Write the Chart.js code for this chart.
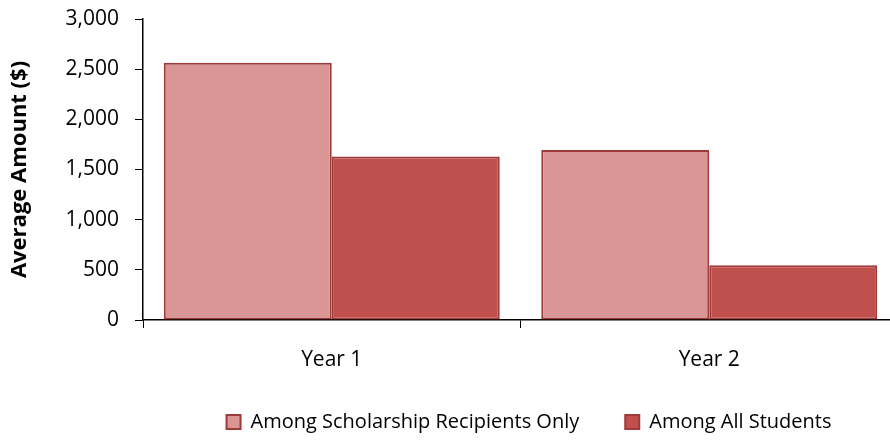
<!DOCTYPE html>
<html>
<head>
<meta charset="utf-8">
<script src="https://cdn.jsdelivr.net/npm/chart.js@4.4.0/dist/chart.umd.min.js"></script>
<style>
    html, body { margin: 0; padding: 0; background: #fff; overflow: hidden; }
    #wrap { width: 890px; height: 440px; overflow: hidden; }
</style>
</head>
<body>
<div id="wrap"><canvas id="chart" width="898" height="440"></canvas></div>
<script>
// Datos del gráfico
const categories = ['Year 1', 'Year 2'];
const seriesNames = ['Among Scholarship Recipients Only', 'Among All Students'];
const recipientsOnly = [2565, 1695];
const allStudents = [1630, 545];
const yTicks = [0, 500, 1000, 1500, 2000, 2500, 3000];

const fontFamily = "'Open Sans', sans-serif";

// Desplazar la leyenda para centrarla bajo el área del gráfico
const legendShift = {
    id: 'legendShift',
    afterLayout: function(chart) {
        const lg = chart.legend;
        lg.left += 80;
        lg.right += 80;
        lg.top -= 14;
    }
};

new Chart(document.getElementById('chart'), {
    type: 'bar',
    data: {
        labels: categories,
        datasets: [{
            label: seriesNames[0],
            data: recipientsOnly,
            backgroundColor: '#d99694',
            borderColor: '#9e3a38',
            borderWidth: 2,
            borderSkipped: false,
            barPercentage: 1,
            categoryPercentage: 0.89
        }, {
            label: seriesNames[1],
            data: allStudents,
            backgroundColor: '#c0504d',
            borderColor: '#9e3a38',
            borderWidth: 2,
            borderSkipped: false,
            barPercentage: 1,
            categoryPercentage: 0.89
        }]
    },
    options: {
        responsive: false,
        animation: false,
        layout: { padding: { top: 19, right: 0, left: 0, bottom: 0 } },
        plugins: {
            tooltip: { enabled: false },
            legend: {
                position: 'bottom',
                maxHeight: 60,
                labels: {
                    color: '#000',
                    font: { family: fontFamily, size: 20 },
                    boxWidth: 14,
                    boxHeight: 14,
                    padding: 46
                }
            }
        },
        scales: {
            x: {
                afterFit: function(scale) { scale.height = 60; },
                border: { color: '#000', width: 1.5 },
                grid: {
                    offset: true,
                    drawOnChartArea: false,
                    drawTicks: true,
                    tickLength: 8,
                    color: '#000'
                },
                ticks: {
                    color: '#000',
                    font: { family: fontFamily, size: 21 },
                    padding: 19
                }
            },
            y: {
                min: 0,
                max: 3000,
                afterFit: function(scale) {
                    scale.width = 143;
                    scale.paddingTop = 0;
                    scale.paddingBottom = 0;
                },
                afterBuildTicks: function(scale) {
                    scale.ticks = yTicks.map(v => ({ value: v }));
                },
                border: { color: '#000', width: 1.5 },
                grid: {
                    drawOnChartArea: false,
                    drawTicks: true,
                    tickLength: 8,
                    color: '#000'
                },
                ticks: {
                    color: '#000',
                    font: { family: fontFamily, size: 21 },
                    padding: 16,
                    callback: function(value) {
                        return value.toLocaleString('en-US');
                    }
                },
                title: {
                    display: true,
                    text: 'Average Amount ($)',
                    color: '#000',
                    font: { family: fontFamily, size: 22, weight: 'bold' },
                    padding: { top: 7, bottom: 0 }
                }
            }
        }
    },
    plugins: [legendShift]
});
</script>
</body>
</html>
